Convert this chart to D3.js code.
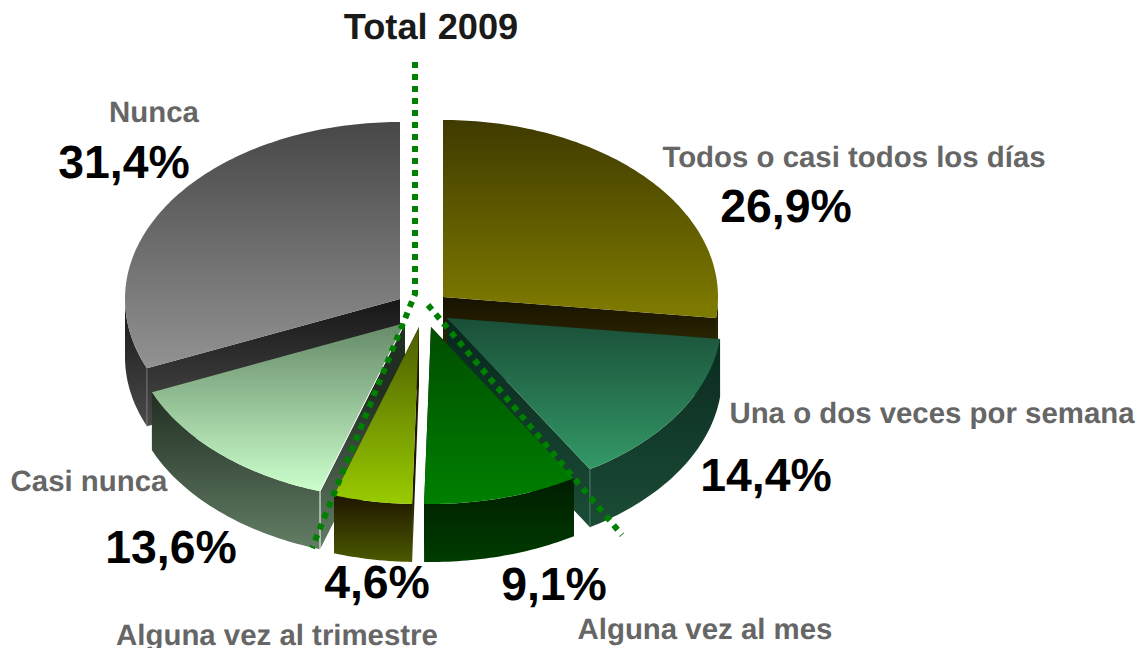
<!DOCTYPE html>
<html><head><meta charset="utf-8">
<script src="https://cdn.jsdelivr.net/npm/d3@7"></script>
<style>html,body{margin:0;padding:0;background:#fff;overflow:hidden}svg{display:block}text{font-family:"Liberation Sans",Arial,sans-serif;font-weight:bold;text-rendering:geometricPrecision}</style>
</head><body><svg id="c" width="1138" height="648"></svg>
<script>
// Data
const categories = ["Todos o casi todos los días","Una o dos veces por semana","Alguna vez al mes","Alguna vez al trimestre","Casi nunca","Nunca"];
const values = [26.9,14.4,9.1,4.6,13.6,31.4];
const valueLabels = ["26,9%","14,4%","9,1%","4,6%","13,6%","31,4%"];
const title = "Total 2009";

// Styles and layout
const topColours  = [["#3f3a00","#807c00"],["#1a4e38","#339966"],["#004d00","#008000"],["#4d5c00","#99cc00"],["#658a68","#ccffcc"],["#474747","#929292"]];
const wallColours = [["#171200","#3a3400"],["#0a2a20","#1b4c36"],["#001d00","#003c00"],["#1f1600","#4c5900"],["#212e22","#637e65"],["#171717","#4a4a4a"]];
const apexes = [[443,297],[447,318],[431,327],[419,327],[405,323],[400,299]];
const paintOrder = [5,0,1,4,2,3];
const catPos = [[854,167],[932,423],[705,639],[277,645],[89,491],[154,122]];
const valPos = [[786,222],[766,491],[554,600],[377,598],[171,563],[124,178]];
const seams = [[1,"end","#5f8a78"],[4,"start","#ffffff"],[5,"start","#8a8a8a"]];
const radiusX = 275, radiusY = 177, depth = 58;

const svg = d3.select("#c"), defs = svg.append("defs");
const rad = Math.PI/180;
const pie = d3.pie().sort(null).value(d=>d).startAngle(0).endAngle(2*Math.PI);
const arcs = pie(values);
const sx = d3.scaleLinear().domain([-1,1]).range([-radiusX,radiusX]);
const sy = d3.scaleLinear().domain([-1,1]).range([-radiusY,radiusY]);
const pt = (i,a,dz=0)=>[apexes[i][0]+sx(Math.sin(a)), apexes[i][1]+sy(-Math.cos(a))+dz];
const line = d3.line();
const sweep = (i,a0,a1,dz=0)=>{
  const n = Math.max(2,Math.ceil((a1-a0)/(rad*1)));
  return d3.range(n+1).map(k=>pt(i,a0+(a1-a0)*k/n,dz));
};
function grad(id,cols,y1,y2){
  const g = defs.append("linearGradient").attr("id",id).attr("gradientUnits","userSpaceOnUse")
    .attr("x1",0).attr("x2",0).attr("y1",y1).attr("y2",y2);
  g.append("stop").attr("offset",0).attr("stop-color",cols[0]);
  g.append("stop").attr("offset",1).attr("stop-color",cols[1]);
}
const front0 = Math.PI/2, front1 = 3*Math.PI/2;

paintOrder.forEach(i=>{
  const d = arcs[i], a0=d.startAngle, a1=d.endAngle, A=apexes[i];
  const g = svg.append("g");
  const f0=Math.max(a0,front0), f1=Math.min(a1,front1);
  const outerTop = sweep(i,f0,f1), outerBot = sweep(i,f0,f1,depth).reverse();
  const wy1 = d3.min(outerTop,p=>p[1]), wy2 = d3.max(outerBot,p=>p[1]);
  grad("w"+i,wallColours[i],wy1,wy2);
  const topPts = [A].concat(sweep(i,a0,a1));
  grad("t"+i,topColours[i],d3.min(topPts,p=>p[1]),d3.max(topPts,p=>p[1]));
  [a0,a1].forEach(a=>{
    const e=pt(i,a), e2=pt(i,a,depth);
    g.append("path").attr("d",line([A,e,e2,[A[0],A[1]+depth]])+"Z").attr("fill",`url(#w${i})`);
  });
  g.append("path").attr("d",line(outerTop.concat(outerBot))+"Z").attr("fill",`url(#w${i})`);
  g.append("path").attr("d",line(topPts)+"Z").attr("fill",`url(#t${i})`);
  seams.filter(s=>s[0]===i).forEach(s=>{
    const a = s[1]==="start"?a0:a1, e=pt(i,a), e2=pt(i,a,depth);
    const pts = s[2]==="#ffffff"?[A,e,e2]:[e,e2];
    g.append("path").attr("d",line(pts)).attr("fill","none").attr("stroke",s[2]).attr("stroke-width",s[2]==="#ffffff"?1:0.75);
  });
});

// Dotted divider lines
[[[415,62],[415,294],[312,548]],[[428,305],[622,535]]].forEach(p=>{
  svg.append("path").attr("d",line(p)).attr("fill","none").attr("stroke","#008000")
    .attr("stroke-width",6).attr("stroke-dasharray","6 6");
});

// Text
svg.append("text").attr("x",431).attr("y",39).attr("text-anchor","middle").attr("font-size",36.2).attr("fill","#1a1a1a").text(title);
svg.selectAll("text.cat").data(categories).join("text").attr("class","cat")
  .attr("x",(d,i)=>catPos[i][0]).attr("y",(d,i)=>catPos[i][1]).attr("text-anchor","middle")
  .attr("font-size",29.4).attr("fill","#666666").text(d=>d);
svg.selectAll("text.val").data(valueLabels).join("text").attr("class","val")
  .attr("x",(d,i)=>valPos[i][0]).attr("y",(d,i)=>valPos[i][1]).attr("text-anchor","middle")
  .attr("font-size",46.4).attr("fill","#000").text(d=>d);
</script></body></html>
